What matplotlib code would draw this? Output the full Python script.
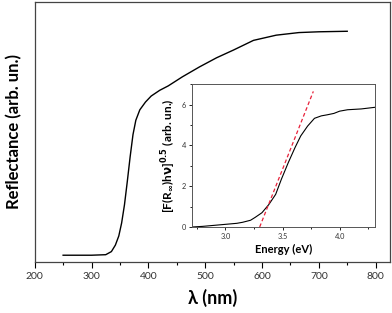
import numpy as np
import matplotlib.pyplot as plt
from matplotlib.ticker import MultipleLocator

plt.rcParams['font.family'] = ['Lato', 'DejaVu Sans']

# 主图: 漫反射谱
wavelength = [250, 300, 325, 335, 342, 348, 353, 358, 363, 368, 373, 378, 385,
              395, 405, 420, 435, 460, 490, 520, 550, 585, 625, 665, 700, 750]
reflectance = [0.026, 0.026, 0.028, 0.040, 0.065, 0.100, 0.150, 0.220, 0.310,
               0.405, 0.490, 0.545, 0.585, 0.615, 0.638, 0.660, 0.677, 0.712,
               0.750, 0.785, 0.815, 0.852, 0.872, 0.882, 0.885, 0.887]

# 插图: Kubelka-Munk
energy = [2.71, 2.80, 2.90, 3.00, 3.10, 3.15, 3.22, 3.26, 3.32, 3.38, 3.44, 3.49,
          3.55, 3.61, 3.66, 3.72, 3.78, 3.84, 3.89, 3.95, 4.00, 4.07, 4.19, 4.31]
km = [0.0, 0.03, 0.08, 0.13, 0.18, 0.23, 0.33, 0.47, 0.70, 1.10, 1.60, 2.34,
      3.15, 3.90, 4.47, 4.95, 5.33, 5.45, 5.50, 5.57, 5.68, 5.75, 5.79, 5.87]
fit_x = [3.30, 3.77]
fit_y = [0.0, 6.65]

fig = plt.figure(figsize=(3.92, 3.13), dpi=100)
ax = fig.add_axes([0.0885, 0.163, 0.906, 0.831])
ax.plot(wavelength, reflectance, color='black', lw=1.0)
ax.set_xlim(200, 825)
ax.set_ylim(0, 1)
ax.set_yticks([])
ax.xaxis.set_major_locator(MultipleLocator(100))
ax.xaxis.set_minor_locator(MultipleLocator(50))
ax.tick_params(axis='x', which='major', direction='out', length=4, width=0.8,
               labelsize=7.5, labelcolor='#333333', pad=3)
ax.tick_params(axis='x', which='minor', direction='out', length=2, width=0.8)
for s in ax.spines.values():
    s.set_color('#444444')
    s.set_linewidth(0.9)
ax.set_xlabel('λ (nm)', fontsize=13, fontweight='bold', labelpad=6)
ax.set_ylabel('Reflectance (arb. un.)', fontsize=12, fontweight='bold', labelpad=9)

ins = fig.add_axes([0.4906, 0.2748, 0.466, 0.456])
ins.plot(energy, km, color='black', lw=0.8)
ins.plot(fit_x, fit_y, color='#e8213a', lw=0.9, ls=(0, (3, 2)))
ins.set_xlim(2.71, 4.31)
ins.set_ylim(0, 7)
ins.xaxis.set_major_locator(MultipleLocator(0.5))
ins.xaxis.set_minor_locator(MultipleLocator(0.25))
ins.yaxis.set_major_locator(MultipleLocator(2))
ins.yaxis.set_minor_locator(MultipleLocator(1))
ins.tick_params(which='major', direction='out', length=2.5, width=0.6,
                labelsize=5.3, labelcolor='#333333', pad=2)
ins.tick_params(which='minor', direction='out', length=1.5, width=0.6)
for s in ins.spines.values():
    s.set_color('#555555')
    s.set_linewidth(0.7)
ins.set_xlabel('Energy (eV)', fontsize=8, fontweight='bold', labelpad=3)
ins.set_ylabel(r'[F(R$_{\mathbf{\infty}}$)h$\mathbf{\nu}$]$^{\mathbf{0.5}}$ (arb. un.)',
               fontsize=8.5, fontweight='bold', labelpad=3)

fig.savefig('out.png', dpi=100)
